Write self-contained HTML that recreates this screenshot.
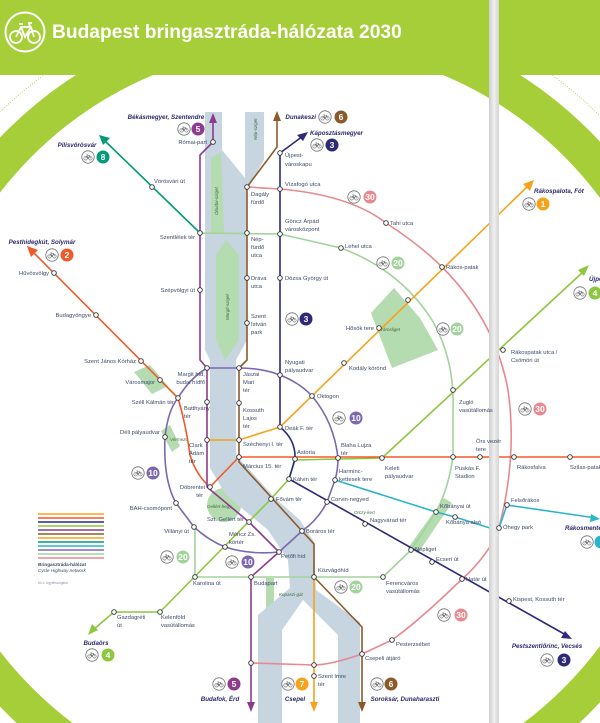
<!DOCTYPE html>
<html><head><meta charset="utf-8"><style>
html,body{margin:0;padding:0;background:#fff;width:600px;height:723px;overflow:hidden}
svg{display:block;position:absolute;left:0;top:0;overflow:hidden}
.t{font-family:"Liberation Sans",sans-serif;font-size:5.8px;fill:#3d4b6b}
.r{text-anchor:end}
.i{font-family:"Liberation Sans",sans-serif;font-size:6.2px;font-style:italic;font-weight:bold;fill:#2d2a6a}
.p{font-family:"Liberation Sans",sans-serif;font-size:4.5px;font-style:italic;fill:#3d6b3d}
.n{font-family:"Liberation Sans",sans-serif;font-size:8.5px;font-weight:bold;fill:#fff;text-anchor:middle}
.ln{fill:none;stroke-width:1.6;stroke-linejoin:round;stroke-linecap:round}
.nd circle{fill:#fff;stroke:#333;stroke-width:.9}
</style></head><body>
<svg width="600" height="723" viewBox="0 0 600 723" overflow="hidden" xmlns="http://www.w3.org/2000/svg">
<defs>
<clipPath id="cp"><rect width="600" height="723"/></clipPath>
<symbol id="b" viewBox="-7 -7 14 14">
<circle r="6.2" fill="#fff" stroke="#6d6e71" stroke-width=".8"/>
<circle cx="-2.4" cy="1.3" r="1.8" fill="none" stroke="#6d6e71" stroke-width=".6"/>
<circle cx="2.4" cy="1.3" r="1.8" fill="none" stroke="#6d6e71" stroke-width=".6"/>
<path d="M-2.4 1.3 L-0.9 -1.5 L1.8 -1.5 L2.4 1.3 M-0.9 -1.5 L0 1.3 L1.8 -1.5 M-1.4 -2.3 L-0.3 -2.3" fill="none" stroke="#6d6e71" stroke-width=".6"/>
</symbol>
<linearGradient id="g" x1="0" x2="1"><stop offset="0" stop-color="#cfcfcf"/><stop offset=".5" stop-color="#eeeeee"/><stop offset="1" stop-color="#d6d6d6"/></linearGradient>
</defs>
<g clip-path="url(#cp)">
<rect width="600" height="723" fill="#fff"/>
<circle cx="298" cy="422" r="430" fill="none" stroke="#a6ce39" stroke-width=".8" stroke-dasharray="1 1.6"/>
<circle cx="298" cy="422" r="394" fill="none" stroke="#a6ce39" stroke-width="36"/>
<rect x="0" y="0" width="600" height="75" fill="#a6ce39"/>
<circle cx="25" cy="32" r="19.5" fill="none" stroke="#fff" stroke-width="2"/>
<g fill="none" stroke="#fff" stroke-width="1.8">
<circle cx="16" cy="37" r="6"/><circle cx="34" cy="37" r="6"/>
<path d="M16 37 L21 27 L31 27 L34 37 M21 27 L25 37 L31 27 M19 24 L23 24 M30 27 L29 23 L32 23"/>
</g>
<text x="52" y="38" font-family="Liberation Sans, sans-serif" font-weight="bold" font-size="19.2" fill="#fff">Budapest bringasztráda-hálózata 2030</text>

<g fill="#b5dbb0">
<polygon points="394,288 371,313 392,368 438,350 420,318"/>
<path d="M444,498 L452,503 L418,553 L408,548 Z"/>
<polygon points="134,372 150,365 168,386 152,394"/>
<polygon points="161,431 170,425 180,446 172,452"/>
<circle cx="224" cy="505" r="17"/>
<rect x="266" y="578" width="8" height="36"/>
</g>
<g fill="#c6d5e0">
<path d="M205,112 L222,112 L222,150 L245,178 L245,112 L264,112 L264,160 L247,190 L247,340 L236,360 L236,455 L275,498 L300,520 L314,542 L316,590 L360,622 L360,723 L338,723 L338,635 L303,600 L282,630 L282,723 L258,723 L258,615 L290,588 L288,560 L268,530 L226,495 L210,468 L210,360 L205,350 Z"/>
</g>
<g fill="#b5dbb0">
<path d="M211,158 L221,152 L224,232 L211,234 Z"/>
<path d="M226,240 L239,255 L239,340 L225,360 L216,340 L216,255 Z"/>
</g>
<text class="p" transform="translate(218,215) rotate(-90)">Óbudai-sziget</text>
<text class="p" transform="translate(229,320) rotate(-90)">Margit-sziget</text>
<text class="p" transform="translate(257,140) rotate(-90)">Nép-sziget</text>
<text class="p" x="380" y="331">Városliget</text>
<text class="p" x="170" y="441">Vérmező</text>
<text class="p" x="207" y="508">Gellért-hegy</text>
<text class="p" x="354" y="514">Orczy-kert</text>
<text class="p" x="279" y="596">Kopaszi-gát</text>

<path class="ln" stroke="#a3d39c" stroke-width="2" d="M200,233 L280,234 L341,248 Q400,270 432,320 Q455,360 453,410 L453,457 Q448,490 436,512 L411,550 L383,577 L195,577 L195,527"/>
<path class="ln" stroke="#e8888f" d="M247,187 L280,189 Q350,195 386,223 Q420,245 442,267 Q495,320 508,390 Q518,460 497,535 Q482,562 462,579 Q420,620 392,640 L362,654 Q330,665 314,665 L251,663"/>
<path class="ln" stroke="#7b68b0" d="M207,368 L239,368 Q262,368 280,375 Q300,383 312,396 Q334,422 338,458 Q338,470 335,480 L327,502 Q318,520 302,531 L279,552 Q250,555 225,547 Q208,540 194,527 L176,503 Q163,480 165,437 Q168,410 178,398 Q190,378 207,368"/>
<path class="ln" stroke="#2cb5c9" d="M335,480 L436,512 L455,517 L490,528 L499,528 L507,505 L596,518"/>
<polygon points="600,519 591,514 590,522" fill="#2cb5c9"/>
<path class="ln" stroke="#8dc63f" stroke-width="2" d="M584,271 L382,458 L295,460 L289,479 L271,499 L160,612 L114,612 L93,630"/>
<polygon points="589,265 578,270 584,276" fill="#8dc63f"/>
<polygon points="88,635 92,624 98,630" fill="#8dc63f"/>
<path class="ln" stroke="#f05a28" d="M32,251 L178,398 Q186,425 190,455 Q196,475 210,487 L239,457 L600,457"/>
<polygon points="27,246 38,250 31,257" fill="#f05a28"/>
<path class="ln" stroke="#f7a21b" d="M207,440 L239,440 L280,427 L529,185"/>
<polygon points="534,180 530,191 523,184" fill="#f7a21b"/>
<path class="ln" stroke="#2d2a7a" d="M303,136 L280,153 L280,427 Q296,440 295,459 L289,479 L566,635"/>
<polygon points="308,132 297,135 303,141" fill="#2d2a7a"/>
<polygon points="572,639 561,638 565,631" fill="#2d2a7a"/>
<path class="ln" stroke="#009b77" d="M104,140 L200,233"/>
<polygon points="99,135 110,138 103,145" fill="#009b77"/>
<path class="ln" stroke="#8e3a8e" d="M213,121 L213,142 L200,155 L200,360 L207,368 L207,487 L249,522 L279,552 L251,577 L251,704"/>
<polygon points="213,113 209,123 217,123" fill="#8e3a8e"/>
<polygon points="251,712 247,702 255,702" fill="#8e3a8e"/>
<path class="ln" stroke="#8b5a2b" d="M277,119 L277,147 L247,187 L247,360 L239,368 L239,462 L302,531 L314,544 L314,577 L362,627 L362,704"/>
<polygon points="277,111 273,121 281,121" fill="#8b5a2b"/>
<polygon points="362,712 358,702 366,702" fill="#8b5a2b"/>
<path class="ln" stroke="#f7a21b" d="M314,577 L314,704"/>
<polygon points="314,712 310,702 318,702" fill="#f7a21b"/>

<rect x="489" y="0" width="10" height="723" fill="url(#g)"/>

<g class="nd">
<circle cx="213" cy="142" r="2.3"/><circle cx="152" cy="187" r="2.3"/><circle cx="280" cy="153" r="2.3"/>
<circle cx="247" cy="187" r="2.3"/><circle cx="280" cy="189" r="2.3"/><circle cx="386" cy="223" r="2.3"/>
<circle cx="200" cy="233" r="2.3"/><circle cx="247" cy="233" r="2.3"/><circle cx="280" cy="234" r="2.3"/>
<circle cx="341" cy="248" r="2.3"/><circle cx="442" cy="267" r="2.3"/><circle cx="54" cy="273" r="2.3"/>
<circle cx="200" cy="290" r="2.3"/><circle cx="247" cy="278" r="2.3"/><circle cx="280" cy="278" r="2.3"/>
<circle cx="96" cy="315" r="2.3"/><circle cx="247" cy="323" r="2.3"/><circle cx="408" cy="300" r="2.3"/>
<circle cx="379" cy="328" r="2.3"/><circle cx="141" cy="361" r="2.3"/><circle cx="503" cy="350" r="2.3"/>
<circle cx="207" cy="368" r="2.3"/><circle cx="239" cy="368" r="2.3"/><circle cx="280" cy="375" r="2.3"/>
<circle cx="344" cy="363" r="2.3"/><circle cx="160" cy="380" r="2.3"/><circle cx="312" cy="396" r="2.3"/>
<circle cx="178" cy="398" r="2.3"/><circle cx="453" cy="390" r="2.3"/><circle cx="207" cy="402" r="2.3"/>
<circle cx="239" cy="403" r="2.3"/><circle cx="280" cy="427" r="2.3"/><circle cx="165" cy="437" r="2.3"/>
<circle cx="207" cy="440" r="2.3"/><circle cx="239" cy="440" r="2.3"/><circle cx="239" cy="457" r="2.3"/>
<circle cx="295" cy="459" r="2.3"/><circle cx="338" cy="458" r="2.3"/><circle cx="382" cy="458" r="2.3"/>
<circle cx="453" cy="457" r="2.3"/><circle cx="480" cy="457" r="2.3"/><circle cx="514" cy="457" r="2.3"/>
<circle cx="570" cy="457" r="2.3"/><circle cx="289" cy="479" r="2.3"/><circle cx="335" cy="480" r="2.3"/>
<circle cx="210" cy="487" r="2.3"/><circle cx="271" cy="499" r="2.3"/><circle cx="327" cy="502" r="2.3"/>
<circle cx="176" cy="503" r="2.3"/><circle cx="507" cy="505" r="2.3"/><circle cx="436" cy="512" r="2.3"/>
<circle cx="455" cy="517" r="2.3"/><circle cx="499" cy="528" r="2.3"/><circle cx="249" cy="522" r="2.3"/>
<circle cx="365" cy="524" r="2.3"/><circle cx="194" cy="527" r="2.3"/><circle cx="302" cy="531" r="2.3"/>
<circle cx="225" cy="547" r="2.3"/><circle cx="279" cy="552" r="2.3"/><circle cx="411" cy="550" r="2.3"/>
<circle cx="432" cy="562" r="2.3"/><circle cx="195" cy="577" r="2.3"/><circle cx="251" cy="577" r="2.3"/>
<circle cx="314" cy="577" r="2.3"/><circle cx="383" cy="577" r="2.3"/><circle cx="462" cy="579" r="2.3"/>
<circle cx="509" cy="601" r="2.3"/><circle cx="114" cy="612" r="2.3"/><circle cx="160" cy="612" r="2.3"/>
<circle cx="392" cy="640" r="2.3"/><circle cx="362" cy="654" r="2.3"/><circle cx="251" cy="663" r="2.3"/>
<circle cx="314" cy="665" r="2.3"/><circle cx="314" cy="676" r="2.3"/>
</g>

<g class="t">
<text x="207" y="144" class="r">Római-part</text>
<text x="154" y="183">Vörösvári út</text>
<text x="285" y="157">Újpest-</text><text x="285" y="166">városkapu</text>
<text x="285" y="186">Vízafogó utca</text>
<text x="251" y="196">Dagály</text><text x="251" y="204">fürdő</text>
<text x="285" y="223">Göncz Árpád</text><text x="285" y="231">városközpont</text>
<text x="390" y="225">Tahi utca</text>
<text x="195" y="239" class="r">Szentlélek tér</text>
<text x="251" y="241">Nép-</text><text x="251" y="249">fürdő</text><text x="251" y="257">utca</text>
<text x="345" y="248">Lehel utca</text>
<text x="446" y="269">Rákos-patak</text>
<text x="49" y="275" class="r">Hűvösvölgy</text>
<text x="195" y="292" class="r">Szépvölgyi út</text>
<text x="251" y="280">Dráva</text><text x="251" y="288">utca</text>
<text x="285" y="280">Dózsa György út</text>
<text x="91" y="317" class="r">Budagyöngye</text>
<text x="251" y="318">Szent</text><text x="251" y="326">István</text><text x="251" y="334">park</text>
<text x="374" y="330" class="r">Hősök tere</text>
<text x="136" y="363" class="r">Szent János Kórház</text>
<text x="285" y="364">Nyugati</text><text x="285" y="372">pályaudvar</text>
<text x="205" y="376" class="r">Margit híd,</text><text x="205" y="384" class="r">budai hídfő</text>
<text x="243" y="376">Jászai</text><text x="243" y="384">Mari</text><text x="243" y="392">tér</text>
<text x="349" y="370">Kodály körönd</text>
<text x="155" y="384" class="r">Városmajor</text>
<text x="317" y="398">Oktogon</text>
<text x="174" y="404" class="r">Széll Kálmán tér</text>
<text x="184" y="410">Batthyány</text><text x="184" y="418">tér</text>
<text x="243" y="412">Kossuth</text><text x="243" y="420">Lajos</text><text x="243" y="428">tér</text>
<text x="459" y="404">Zugló</text><text x="459" y="412">vasútállomás</text>
<text x="511" y="354">Rákospatak utca /</text><text x="511" y="362">Csömöri út</text>
<text x="285" y="430">Deák F. tér</text>
<text x="160" y="434" class="r">Déli pályaudvar</text>
<text x="189" y="447">Clark</text><text x="189" y="455">Ádám</text><text x="189" y="463">tér</text>
<text x="243" y="446">Széchenyi I. tér</text>
<text x="341" y="447">Blaha Lujza</text><text x="341" y="455">tér</text>
<text x="476" y="443">Örs vezér</text><text x="476" y="451">tere</text>
<text x="297" y="454">Astoria</text>
<text x="243" y="468">Március 15. tér</text>
<text x="385" y="470">Keleti</text><text x="385" y="478">pályaudvar</text>
<text x="455" y="470">Puskás F.</text><text x="455" y="478">Stadion</text>
<text x="517" y="469">Rákosfalva</text>
<text x="570" y="469">Szilas-patak</text>
<text x="339" y="473">Harminc-</text><text x="339" y="481">kettesek tere</text>
<text x="293" y="481">Kálvin tér</text>
<text x="205" y="489" class="r">Döbrentei</text><text x="203" y="497" class="r">tér</text>
<text x="276" y="501">Fővám tér</text>
<text x="331" y="501">Corvin-negyed</text>
<text x="172" y="510" class="r">BAH-csomópont</text>
<text x="440" y="508">Kőbányai út</text>
<text x="446" y="524">Kőbánya alsó</text>
<text x="511" y="502">Felsőrákos</text>
<text x="503" y="529">Óhegy park</text>
<text x="244" y="521" class="r">Szt. Gellért tér</text>
<text x="370" y="522">Nagyvárad tér</text>
<text x="306" y="533">Boráros tér</text>
<text x="189" y="533" class="r">Villányi út</text>
<text x="229" y="536">Móricz Zs.</text><text x="229" y="544">körtér</text>
<text x="415" y="551">Népliget</text>
<text x="281" y="558">Petőfi híd</text>
<text x="436" y="561">Ecseri út</text>
<text x="318" y="572">Közvágóhíd</text>
<text x="466" y="581">Határ út</text>
<text x="193" y="585">Karolina út</text>
<text x="254" y="585">Budapart</text>
<text x="386" y="585">Ferencváros</text><text x="386" y="593">vasútállomás</text>
<text x="513" y="601">Kispest, Kossuth tér</text>
<text x="117" y="619">Gazdagréti</text><text x="117" y="627">út</text>
<text x="161" y="619">Kelenföld</text><text x="161" y="627">vasútállomás</text>
<text x="396" y="646">Pesterzsébet</text>
<text x="365" y="660">Csepeli átjáró</text>
<text x="318" y="678">Szent Imre</text><text x="318" y="686">tér</text>
</g>
<g class="i">
<text x="166" y="119" text-anchor="middle">Békásmegyer, Szentendre</text>
<text x="77" y="147" text-anchor="middle">Pilisvörösvár</text>
<text x="316" y="119" text-anchor="end">Dunakeszi</text>
<text x="310" y="135">Káposztásmegyer</text>
<text x="42" y="244" text-anchor="middle">Pesthidegkút, Solymár</text>
<text x="534" y="193">Rákospalota, Fót</text>
<text x="589" y="281">Újpest</text>
<text x="96" y="645" text-anchor="middle">Budaörs</text>
<text x="220" y="701" text-anchor="middle">Budafok, Érd</text>
<text x="295" y="701" text-anchor="middle">Csepel</text>
<text x="405" y="701" text-anchor="middle">Soroksár, Dunaharaszti</text>
<text x="547" y="648" text-anchor="middle">Pestszentlőrinc, Vecsés</text>
<text x="565" y="530">Rákosmente</text>
</g>

<g>
<use href="#b" x="177" y="122" width="14" height="14"/><circle cx="198" cy="129" r="6.5" fill="#8e3a8e"/><text class="n" x="198" y="132">5</text>
<use href="#b" x="81" y="150" width="14" height="14"/><circle cx="103" cy="157" r="6.5" fill="#009b77"/><text class="n" x="103" y="160">8</text>
<use href="#b" x="318" y="110" width="14" height="14"/><circle cx="341" cy="117" r="6.5" fill="#8b5a2b"/><text class="n" x="341" y="120">6</text>
<use href="#b" x="310" y="138" width="14" height="14"/><circle cx="332" cy="145" r="6.5" fill="#2d2a7a"/><text class="n" x="332" y="148">3</text>
<use href="#b" x="347" y="190" width="14" height="14"/><circle cx="370" cy="197" r="6.5" fill="#e8888f"/><text class="n" x="370" y="200">30</text>
<use href="#b" x="522" y="197" width="14" height="14"/><circle cx="543" cy="204" r="6.5" fill="#f7a21b"/><text class="n" x="543" y="207">1</text>
<use href="#b" x="45" y="248" width="14" height="14"/><circle cx="67" cy="255" r="6.5" fill="#f05a28"/><text class="n" x="67" y="258">2</text>
<use href="#b" x="376" y="256" width="14" height="14"/><circle cx="398" cy="263" r="6.5" fill="#a3d39c"/><text class="n" x="398" y="266">20</text>
<use href="#b" x="285" y="312" width="14" height="14"/><circle cx="306" cy="319" r="6.5" fill="#2d2a7a"/><text class="n" x="306" y="322">3</text>
<use href="#b" x="436" y="322" width="14" height="14"/><circle cx="457" cy="329" r="6.5" fill="#a3d39c"/><text class="n" x="457" y="332">20</text>
<use href="#b" x="573" y="286" width="14" height="14"/><circle cx="595" cy="293" r="6.5" fill="#8dc63f"/><text class="n" x="595" y="296">4</text>
<use href="#b" x="332" y="411" width="14" height="14"/><circle cx="356" cy="418" r="6.5" fill="#7b68b0"/><text class="n" x="356" y="421">10</text>
<use href="#b" x="518" y="402" width="14" height="14"/><circle cx="540" cy="409" r="6.5" fill="#e8888f"/><text class="n" x="540" y="412">30</text>
<use href="#b" x="131" y="466" width="14" height="14"/><circle cx="153" cy="473" r="6.5" fill="#7b68b0"/><text class="n" x="153" y="476">10</text>
<use href="#b" x="160" y="550" width="14" height="14"/><circle cx="183" cy="557" r="6.5" fill="#a3d39c"/><text class="n" x="183" y="560">20</text>
<use href="#b" x="225" y="555" width="14" height="14"/><circle cx="248" cy="562" r="6.5" fill="#7b68b0"/><text class="n" x="248" y="565">10</text>
<use href="#b" x="334" y="580" width="14" height="14"/><circle cx="356" cy="587" r="6.5" fill="#a3d39c"/><text class="n" x="356" y="590">20</text>
<use href="#b" x="437" y="608" width="14" height="14"/><circle cx="461" cy="615" r="6.5" fill="#e8888f"/><text class="n" x="461" y="618">30</text>
<use href="#b" x="580" y="535" width="14" height="14"/><circle cx="601" cy="542" r="6.5" fill="#2cb5c9"/>
<use href="#b" x="85" y="648" width="14" height="14"/><circle cx="108" cy="655" r="6.5" fill="#8dc63f"/><text class="n" x="108" y="658">4</text>
<use href="#b" x="212" y="677" width="14" height="14"/><circle cx="234" cy="684" r="6.5" fill="#8e3a8e"/><text class="n" x="234" y="687">5</text>
<use href="#b" x="281" y="677" width="14" height="14"/><circle cx="302" cy="684" r="6.5" fill="#f7a21b"/><text class="n" x="302" y="687">7</text>
<use href="#b" x="370" y="677" width="14" height="14"/><circle cx="391" cy="684" r="6.5" fill="#8b5a2b"/><text class="n" x="391" y="687">6</text>
<use href="#b" x="540" y="653" width="14" height="14"/><circle cx="564" cy="660" r="6.5" fill="#2d2a7a"/><text class="n" x="564" y="663">3</text>
</g>

<g stroke-width="1.4">
<line x1="38" y1="514" x2="104" y2="514" stroke="#f7a21b"/>
<line x1="38" y1="518" x2="104" y2="518" stroke="#f05a28"/>
<line x1="38" y1="522" x2="104" y2="522" stroke="#2d2a7a"/>
<line x1="38" y1="526" x2="104" y2="526" stroke="#8dc63f"/>
<line x1="38" y1="530" x2="104" y2="530" stroke="#8e3a8e"/>
<line x1="38" y1="534" x2="104" y2="534" stroke="#8b5a2b"/>
<line x1="38" y1="538" x2="104" y2="538" stroke="#f7a21b"/>
<line x1="38" y1="542" x2="104" y2="542" stroke="#009b77"/>
<line x1="38" y1="546" x2="104" y2="546" stroke="#2cb5c9"/>
<line x1="38" y1="550" x2="104" y2="550" stroke="#7b68b0"/>
<line x1="38" y1="554" x2="104" y2="554" stroke="#a3d39c"/>
<line x1="38" y1="558" x2="104" y2="558" stroke="#e8888f"/>
</g>
<text x="38" y="566" font-family="Liberation Sans, sans-serif" font-size="4.6" font-weight="bold" fill="#3d4b6b">Bringasztráda-hálózat</text>
<text x="38" y="572" font-family="Liberation Sans, sans-serif" font-size="4.6" font-style="italic" fill="#3d4b6b">Cycle Highway network</text>
<text x="38" y="584" font-family="Liberation Sans, sans-serif" font-size="3.2" fill="#8a93a8">M=1: Ügyfélszolgálat</text>
</g>
</svg>
</body></html>
